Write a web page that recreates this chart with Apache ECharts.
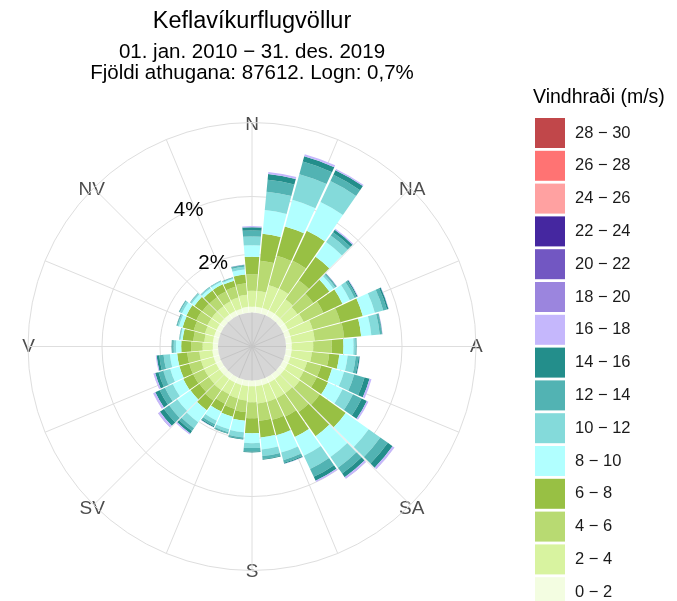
<!DOCTYPE html>
<html><head><meta charset="utf-8">
<script src="https://cdn.jsdelivr.net/npm/echarts@6/dist/echarts.min.js"></script>
<style>html,body{margin:0;padding:0;background:#fff}#c{width:677px;height:601px}</style>
</head><body><div id="c"></div>
<script>
// wind direction bins (degrees, centre of 10° sector)
const directions = ['0','10','20','30','40','50','60','70','80','90','100','110','120','130','140','150','160','170','180','190','200','210','220','230','240','250','260','270','280','290','300','310','320','330','340','350'];
// speed classes, low to high
const speedClasses = ['0 − 2','2 − 4','4 − 6','6 − 8','8 − 10','10 − 12','12 − 14','14 − 16','16 − 18','18 − 20','20 − 22','22 − 24','24 − 26','26 − 28','28 − 30'];
const classColors = ['#f3fde1','#d8f3a0','#b8da72','#98c044','#b1ffff','#84dada','#52b3b3','#238e8b','#c5b7fc','#9b85de','#7257c2','#4527a0','#ffa1a1','#ff7373','#c1474a'];
// frequency (%) per direction for each speed class
const s0_2  = [0.2,0.2,0.2,0.2,0.2,0.2,0.2,0.2,0.2,0.2,0.2,0.2,0.2,0.2,0.2,0.2,0.2,0.2,0.2,0.2,0.2,0.2,0.2,0.2,0.2,0.2,0.2,0.18,0.18,0.18,0.18,0.18,0.18,0.18,0.18,0.2];
const s2_4  = [0.55,0.55,0.82,0.83,0.62,0.55,0.6,0.8,0.8,0.74,0.7,0.6,0.6,0.65,0.6,0.6,0.6,0.6,0.55,0.5,0.48,0.45,0.47,0.45,0.45,0.45,0.45,0.35,0.3,0.33,0.35,0.35,0.35,0.37,0.4,0.42];
const s4_6  = [0.57,1.05,1.05,1.07,0.8,0.67,0.75,0.99,1.02,0.64,0.6,0.5,0.5,0.84,0.8,0.7,0.65,0.6,0.55,0.4,0.38,0.36,0.45,0.4,0.42,0.42,0.42,0.4,0.38,0.4,0.42,0.4,0.38,0.38,0.38,0.4];
const s6_8  = [0.6,0.93,1.05,1.14,1.0,0.68,0.73,0.8,0.59,0.4,0.35,0.39,0.43,1.1,1.02,0.78,0.55,0.58,0.52,0.3,0.28,0.3,0.4,0.38,0.38,0.35,0.35,0.34,0.37,0.4,0.38,0.33,0.28,0.27,0.22,0.3];
const s8_10 = [0.4,0.82,0.95,1.1,0.62,0.17,0.28,0.43,0.35,0.35,0.29,0.43,0.55,0.97,0.88,0.72,0.62,0.41,0.34,0.4,0.45,0.35,0.51,0.55,0.4,0.33,0.25,0.18,0.07,0.13,0.17,0.12,0.1,0.1,0.07,0.17];
const s10_12 = [0.3,0.64,0.92,0.8,0.28,0.08,0.18,0.3,0.29,0.07,0.28,0.36,0.4,0.49,0.45,0.5,0.27,0.23,0.17,0.18,0.1,0.13,0.25,0.35,0.3,0.25,0.22,0.08,0.03,0.05,0.08,0.05,0.04,0.03,0.03,0.1];
const s12_14 = [0.21,0.41,0.45,0.24,0.14,0.04,0.08,0.13,0.07,0.03,0.1,0.37,0.33,0.32,0.25,0.3,0.09,0.1,0.12,0.05,0.04,0.08,0.12,0.22,0.2,0.17,0.15,0.05,0.015,0.03,0.03,0.015,0.015,0.015,0.015,0.05];
const s14_16 = [0.11,0.2,0.19,0.17,0.1,0.02,0.04,0.06,0.02,0.01,0.04,0.18,0.2,0.2,0.15,0.15,0.04,0.03,0.03,0.02,0.02,0.04,0.1,0.17,0.17,0.12,0.09,0.02,0.005,0.01,0.01,0.005,0.005,0.005,0.005,0.02];
const s16_18 = [0.04,0.07,0.07,0.05,0.04,0.01,0.02,0.01,0.01,0,0.01,0.07,0.06,0.07,0.06,0.05,0.01,0,0,0,0,0.01,0.05,0.07,0.07,0.05,0.03,0,0,0,0,0,0,0,0,0.01];
const s18_20 = [0,0,0,0,0,0,0,0,0,0,0,0,0,0.01,0.01,0,0,0,0,0,0,0,0,0.01,0.01,0.01,0,0,0,0,0,0,0,0,0,0];
const s20_22 = [0,0,0,0,0,0,0,0,0,0,0,0,0,0,0,0,0,0,0,0,0,0,0,0,0,0,0,0,0,0,0,0,0,0,0,0];
const s22_24 = [0,0,0,0,0,0,0,0,0,0,0,0,0,0,0,0,0,0,0,0,0,0,0,0,0,0,0,0,0,0,0,0,0,0,0,0];
const s24_26 = [0,0,0,0,0,0,0,0,0,0,0,0,0,0,0,0,0,0,0,0,0,0,0,0,0,0,0,0,0,0,0,0,0,0,0,0];
const s26_28 = [0,0,0,0,0,0,0,0,0,0,0,0,0,0,0,0,0,0,0,0,0,0,0,0,0,0,0,0,0,0,0,0,0,0,0,0];
const s28_30 = [0,0,0,0,0,0,0,0,0,0,0,0,0,0,0,0,0,0,0,0,0,0,0,0,0,0,0,0,0,0,0,0,0,0,0,0];
const classData = [s0_2,s2_4,s4_6,s6_8,s8_10,s10_12,s12_14,s14_16,s16_18,s18_20,s20_22,s22_24,s24_26,s26_28,s28_30];
// axis labels
const compassLabels = {0:'N',45:'NA',90:'A',135:'SA',180:'S',225:'SV',270:'V',315:'NV'};
const compassStyle = {0:'n',45:'d',90:'e',135:'u',180:'s',225:'u',270:'w',315:'d'};
const radialTicks = [2, 4];
const radialMax = 6.55;

const FONT = '"Liberation Sans", Arial, sans-serif';
const C = [252, 346.5];
const chart = echarts.init(document.getElementById('c'), null, {renderer:'canvas'});

const series = classData.map((d, i) => ({
  name: speedClasses[i], type: 'bar', coordinateSystem: 'polar', polarIndex: 1,
  stack: 'wind', data: d.map(v => v === 0 ? null : v), barCategoryGap: '7%', silent: true,
  itemStyle: {color: classColors[i]}, emphasis: {disabled: true}
}));
series.push({
  type: 'pie', center: C, radius: [0, 34], silent: true, z: 3,
  label: {show: false}, labelLine: {show: false},
  data: [{value: 1, name: 'Logn', itemStyle: {color: 'rgba(170,170,170,0.48)'}}]
});

const lab = {fontSize: 19, color: '#4d4d4d', fontFamily: FONT};
chart.setOption({
  animation: false,
  backgroundColor: '#fff',
  textStyle: {fontFamily: FONT},
  graphic: [
    {type:'text', x:252, y:22, style:{text:'Keflavíkurflugvöllur', align:'center', verticalAlign:'middle', fontSize:23.5, fontFamily:FONT, fill:'#000'}},
    {type:'text', x:252, y:52, style:{text:'01. jan. 2010 − 31. des. 2019', align:'center', verticalAlign:'middle', fontSize:20.5, fontFamily:FONT, fill:'#000'}},
    {type:'text', x:252, y:73, style:{text:'Fjöldi athugana: 87612. Logn: 0,7%', align:'center', verticalAlign:'middle', fontSize:20.5, fontFamily:FONT, fill:'#000'}},
    {type:'text', x:533, y:98, style:{text:'Vindhraði (m/s)', align:'left', verticalAlign:'middle', fontSize:19.5, fontFamily:FONT, fill:'#000'}}
  ],
  legend: {
    orient: 'vertical', left: 530, top: 113, height: 560, itemWidth: 30, itemHeight: 30, itemGap: 2.8,
    icon: 'rect', selectedMode: false,
    data: speedClasses.slice().reverse(),
    textStyle: {fontSize: 16.5, color: '#1a1a1a', fontFamily: FONT, padding: [0,0,0,5]}
  },
  polar: [
    {center: C, radius: [0, 224]},
    {center: C, radius: [34, 224]},
    {center: C, radius: [34, 224]}
  ],
  angleAxis: [
    {polarIndex: 0, type: 'value', min: 0, max: 360, interval: 22.5, startAngle: 90, clockwise: true,
     axisLine: {show: true, lineStyle: {color: '#dedede', width: 1}},
     axisTick: {show: false},
     splitLine: {show: true, lineStyle: {color: '#dedede', width: 1}},
     axisLabel: {formatter: v => compassLabels[v] ? '{' + compassStyle[v] + '|' + compassLabels[v] + '}' : '', margin: -16,
                 fontSize: 19, color: '#4d4d4d', fontFamily: FONT,
                 rich: {
                   n: Object.assign({padding: [0,0,4.5,0]}, lab),
                   s: Object.assign({padding: [7.5,0,0,0]}, lab),
                   w: Object.assign({padding: [0,9,0,0]}, lab),
                   e: Object.assign({padding: [0,0,0,10]}, lab),
                   d: Object.assign({padding: [0,0,0,0]}, lab),
                   u: Object.assign({padding: [6,0,0,0]}, lab)
                 }}},
    {polarIndex: 1, type: 'category', data: directions, startAngle: 95, clockwise: true, show: false},
    {polarIndex: 2, type: 'value', min: 0, max: 360, startAngle: 115, show: false}
  ],
  radiusAxis: [
    {polarIndex: 0, type: 'value', min: 0, max: 1, show: false},
    {polarIndex: 1, type: 'value', min: 0, max: radialMax, interval: 2,
     axisLine: {show: false}, axisTick: {show: false}, axisLabel: {show: false},
     splitLine: {show: true, lineStyle: {color: ['rgba(0,0,0,0)', '#dedede', '#dedede', 'rgba(0,0,0,0)'], width: 1}}},
    {polarIndex: 2, type: 'value', min: 0, max: radialMax, interval: 2,
     axisLine: {show: false}, axisTick: {show: false}, splitLine: {show: false},
     axisLabel: {formatter: v => radialTicks.indexOf(v) >= 0 ? v + '%' : '', margin: 0, align: 'center', verticalAlign: 'middle',
                 fontSize: 20.5, color: '#000', fontFamily: FONT}}
  ],
  series: series
});
</script>
</body></html>
